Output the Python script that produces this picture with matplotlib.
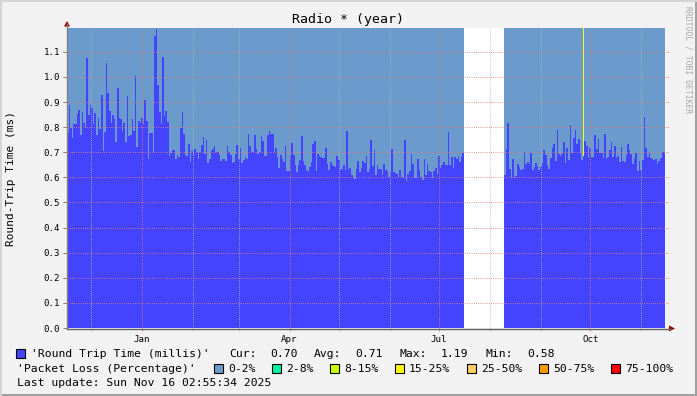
import matplotlib
matplotlib.use("Agg")
import matplotlib.pyplot as plt
import matplotlib.dates as mdates
import numpy as np
import pandas as pd
from matplotlib.patches import Rectangle, Polygon
from matplotlib.lines import Line2D

plt.rcParams["font.family"] = ["DejaVu Sans Mono", "DejaVu Sans"]

# -------------------------
# DATA
# -------------------------
# daily round trip time (ms), before the outage
rtt_before_gap = [
    0.778, 0.888, 0.795, 0.758, 0.812, 0.812, 0.852, 0.868, 0.769, 0.860,
    0.816, 0.797, 1.075, 0.848, 0.888, 0.876, 0.812, 0.856, 0.769, 0.836,
    0.793, 0.928, 0.705, 0.780, 1.055, 0.936, 0.864, 0.816, 0.848, 0.832,
    0.741, 0.956, 0.836, 0.832, 0.785, 0.816, 0.741, 0.924, 0.765, 0.769,
    0.832, 0.785, 1.004, 0.721, 0.824, 0.816, 0.836, 0.812, 0.908, 0.824,
    0.673, 0.777, 0.777, 0.700, 1.163, 1.190, 0.968, 0.860, 0.812, 1.079,
    0.844, 0.864,
    0.820, 0.685, 0.697, 0.709, 0.709, 0.673, 0.689, 0.681, 0.797, 0.860,
    0.773, 0.689, 0.685, 0.733, 0.661, 0.705, 0.689, 0.713, 0.700, 0.673,
    0.700, 0.729, 0.761, 0.693, 0.749, 0.657, 0.673, 0.705, 0.713, 0.725,
    0.700, 0.700, 0.689, 0.665, 0.673, 0.673, 0.665, 0.725, 0.700, 0.689,
    0.657, 0.661, 0.693, 0.729, 0.673, 0.717, 0.657, 0.669, 0.681, 0.672,
    0.773, 0.725, 0.700, 0.700, 0.769, 0.713, 0.693, 0.700, 0.765, 0.745,
    0.685,
    0.685, 0.769, 0.785, 0.773, 0.773, 0.700, 0.717, 0.681, 0.637, 0.689,
    0.673, 0.661, 0.725, 0.625, 0.625, 0.685, 0.737, 0.689, 0.649, 0.621,
    0.649, 0.669, 0.765, 0.665, 0.649, 0.629, 0.625, 0.641, 0.661, 0.733,
    0.745, 0.625, 0.693, 0.685, 0.681, 0.677, 0.677, 0.717, 0.653, 0.629,
    0.661, 0.649, 0.645, 0.641, 0.685, 0.669, 0.629, 0.633, 0.649, 0.629,
    0.785, 0.633, 0.637, 0.609, 0.597, 0.593, 0.633, 0.665, 0.621, 0.637,
    0.665, 0.657, 0.685,
    0.621, 0.633, 0.749, 0.645, 0.709, 0.609, 0.649, 0.633, 0.633, 0.609,
    0.653, 0.629, 0.625, 0.601, 0.617, 0.713, 0.621, 0.617, 0.613, 0.601,
    0.629, 0.601, 0.597, 0.749, 0.585, 0.613, 0.625, 0.693, 0.653, 0.597,
    0.597, 0.673, 0.629, 0.601, 0.589, 0.673, 0.609, 0.653, 0.625, 0.621,
    0.597, 0.625, 0.637, 0.613, 0.685, 0.637, 0.649, 0.661, 0.649, 0.649,
    0.781, 0.649, 0.681, 0.637, 0.681, 0.673, 0.685, 0.661, 0.681, 0.697,
]
# daily round trip time (ms), after the outage
rtt_after_gap = [
    0.609, 0.713, 0.816, 0.633, 0.597, 0.673, 0.597, 0.605, 0.653, 0.641,
    0.629, 0.633, 0.700, 0.653, 0.661, 0.653, 0.697, 0.629, 0.641, 0.657,
    0.645, 0.629, 0.641, 0.657, 0.709, 0.689, 0.649, 0.633, 0.677, 0.717,
    0.733, 0.665, 0.789, 0.693, 0.685, 0.693, 0.741, 0.657, 0.717, 0.669,
    0.808, 0.697, 0.757, 0.789, 0.733, 0.753, 0.697, 0.669, 0.685, 0.745,
    0.725, 0.677,
    0.717, 0.681, 0.681, 0.769, 0.713, 0.753, 0.697, 0.697, 0.677, 0.773,
    0.673, 0.681, 0.709, 0.741, 0.681, 0.725, 0.677, 0.685, 0.661, 0.721,
    0.665, 0.661, 0.689, 0.733, 0.709, 0.693, 0.653, 0.673, 0.697, 0.625,
    0.665, 0.629, 0.669, 0.840, 0.717, 0.681, 0.700, 0.677, 0.673, 0.669,
    0.673, 0.653, 0.665, 0.677, 0.700, 0.700,
]
range_start = "2024-11-16 16:00"
gap_start = "2025-07-16 02:00"
gap_end = "2025-08-09 10:00"
range_end = "2025-11-15 08:00"

# one day with higher packet loss
loss_event_day = "2025-09-26 12:00"
loss_event_class = 3  # index in loss_labels -> 15-25%

loss_labels = ["0-2%", "2-8%", "8-15%", "15-25%", "25-50%", "50-75%", "75-100%"]
loss_colors = ["#6A9BCC", "#00F0A0", "#C8FF00", "#FFFF00", "#FFCC66", "#FF9900", "#FF0000"]

stat_names = ["Cur:", "Avg:", "Max:", "Min:"]
stat_values = [0.70, 0.71, 1.19, 0.58]
last_update = "Last update: Sun Nov 16 02:55:34 2025"

y_ticks = [0.0, 0.1, 0.2, 0.3, 0.4, 0.5, 0.6, 0.7, 0.8, 0.9, 1.0, 1.1]
y_top = 1.195
major_months = ["2025-01-01", "2025-04-01", "2025-07-01", "2025-10-01"]
major_labels = ["Jan", "Apr", "Jul", "Oct"]
minor_months = ["2024-12-01", "2025-02-01", "2025-03-01", "2025-05-01", "2025-06-01",
                "2025-08-01", "2025-09-01", "2025-11-01"]

# -------------------------
# STYLE
# -------------------------
RTT_BLUE = "#4444FF"
CANVAS = "#F2F2F2"
MGRID = "#E07878"
GRID = "#B8B8B8"
W, H = 697, 396

fig = plt.figure(figsize=(W / 100, H / 100), dpi=100, facecolor=CANVAS)


def fx(x):
    return x / W


def fy(y):
    return 1 - y / H


ax = fig.add_axes([fx(67), fy(328), (665 - 67) / W, (328 - 28) / H])
ax.set_facecolor("white")

# packet loss background + RTT area
t0, g0, g1, t1 = (pd.Timestamp(s) for s in (range_start, gap_start, gap_end, range_end))
edges_a = pd.date_range(t0, g0, periods=len(rtt_before_gap) + 1)
edges_b = pd.date_range(g1, t1, periods=len(rtt_after_gap) + 1)

for edges, vals in ((edges_a, rtt_before_gap), (edges_b, rtt_after_gap)):
    ax.fill_between([edges[0], edges[-1]], 0, y_top, color=loss_colors[0], lw=0, zorder=1)
    ax.fill_between(edges, np.r_[vals, vals[-1]], step="post", color=RTT_BLUE,
                    lw=0, zorder=2)

ev = pd.Timestamp(loss_event_day)
ax.fill_between([ev, ev + pd.Timedelta(hours=15)], 0, y_top,
                color=loss_colors[loss_event_class], lw=0, zorder=1.5)

ax.set_xlim(t0, t1)
ax.set_ylim(0, y_top)

# grid (drawn on top, like rrdtool)
dots = (0, (0.72, 1.44))
for m in minor_months:
    ax.axvline(pd.Timestamp(m), color=GRID, lw=0.72, ls=dots, zorder=3)
for m in major_months:
    ax.axvline(pd.Timestamp(m), color=MGRID, lw=0.72, ls=dots, zorder=3)
for v in y_ticks[1:]:
    ax.axhline(v, xmin=-0.006, xmax=1.006, color=MGRID, lw=0.72, ls=dots,
               zorder=3, clip_on=False)

ax.set_yticks(y_ticks)
ax.set_yticklabels([f"{v:.1f}" for v in y_ticks])
ax.set_xticks([pd.Timestamp(m) for m in major_months])
ax.set_xticklabels(major_labels)
ax.set_xticks([pd.Timestamp(m) for m in minor_months], minor=True)
ax.tick_params(axis="y", labelsize=6.6, length=3, width=0.7, color="#7A7A7A", pad=2)
ax.tick_params(axis="x", which="major", labelsize=6.6, length=2, width=0.7,
               color=MGRID, pad=3)
ax.tick_params(axis="x", which="minor", length=2, width=0.7, color=GRID)
for s in ax.spines.values():
    s.set_visible(False)

# axis lines and arrows (figure pixels)
fig.add_artist(Line2D([fx(67), fx(67)], [fy(328), fy(24)], color="#808080", lw=1))
fig.add_artist(Line2D([fx(67), fx(671)], [fy(328.5), fy(328.5)], color="#606060", lw=1))
fig.add_artist(Polygon([(fx(64), fy(26.5)), (fx(70), fy(26.5)), (fx(67), fy(21))],
                       closed=True, color="#A00000", lw=0))
fig.add_artist(Polygon([(fx(669), fy(325.5)), (fx(669), fy(331.5)), (fx(675), fy(328.5))],
                       closed=True, color="#A00000", lw=0))

# titles
fig.text(fx(348), fy(19), "Radio * (year)", ha="center", va="center", fontsize=9.5)
fig.text(fx(11), fy(178), "Round-Trip Time (ms)", ha="center", va="center",
         rotation=90, fontsize=8)
fig.text(fx(688), fy(60), "RRDTOOL / TOBI OETIKER", ha="center", va="center",
         rotation=270, fontsize=5.8, color="#A8A8A8")

# legend
LEG = 8.2
fig.add_artist(Rectangle((fx(15.5), fy(358)), 9 / W, 9 / H, facecolor=RTT_BLUE,
                         edgecolor="black", lw=0.8))
fig.text(fx(31), fy(354), "'Round Trip Time (millis)'", va="center", fontsize=LEG)
stat_x = [229, 314, 400, 486]
for name, val, x in zip(stat_names, stat_values, stat_x):
    fig.text(fx(x), fy(354), name, va="center", fontsize=LEG)
    fig.text(fx(x + 41), fy(354), f"{val:.2f}", va="center", fontsize=LEG)

fig.text(fx(17), fy(368.5), "'Packet Loss (Percentage)'", va="center", fontsize=LEG)
swatch_x = [213.5, 271.5, 329.5, 394.5, 467, 539, 611]
for lab, col, x in zip(loss_labels, loss_colors, swatch_x):
    fig.add_artist(Rectangle((fx(x), fy(373)), 9 / W, 9 / H, facecolor=col,
                             edgecolor="black", lw=0.8))
    fig.text(fx(x + 14.5), fy(368.5), lab, va="center", fontsize=LEG)

fig.text(fx(17), fy(382.5), last_update, va="center", fontsize=LEG)

# rrdtool-like frame
fig.add_artist(Rectangle((0, 0), 1, 2 / H, color="#A0A0A0", lw=0))
fig.add_artist(Rectangle((1 - 2 / W, 0), 2 / W, 1, color="#A0A0A0", lw=0))
fig.add_artist(Rectangle((0, 1 - 2 / H), 1, 2 / H, color="#D4D4D4", lw=0))
fig.add_artist(Rectangle((0, 0), 2 / W, 1, color="#D4D4D4", lw=0))

fig.savefig("out.png", dpi=100, facecolor=CANVAS)
